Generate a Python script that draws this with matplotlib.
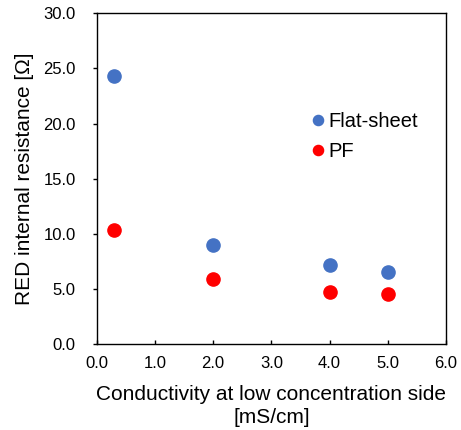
import matplotlib.pyplot as plt

# ==== data ====
cond = [0.3, 2.0, 4.0, 5.0]
flat_sheet = [24.3, 8.95, 7.15, 6.5]
pf = [10.3, 5.9, 4.7, 4.5]

plt.rcParams['font.family'] = ['Liberation Sans', 'DejaVu Sans']

fig = plt.figure(figsize=(4.61, 4.30), dpi=100)
ax = fig.add_axes([96.7 / 461, 1 - 344 / 430, (446 - 96.7) / 461, (344 - 13.3) / 430])

ax.plot(cond, flat_sheet, 'o', color='#4472C4', markersize=9.5, label='Flat-sheet')
ax.plot(cond, pf, 'o', color='#FF0000', markersize=9.5, label='PF')

ax.set_xlim(0, 6)
ax.set_ylim(0, 30)
ax.set_xticks([0, 1, 2, 3, 4, 5, 6])
ax.set_yticks([0, 5, 10, 15, 20, 25, 30])
ax.set_xticklabels(['%.1f' % v for v in ax.get_xticks()])
ax.set_yticklabels(['%.1f' % v for v in ax.get_yticks()])
ax.tick_params(axis='x', direction='in', length=3, width=1, labelsize=12, pad=9, colors='black')
ax.tick_params(axis='y', direction='out', length=3, width=1, labelsize=12, pad=12, colors='black')
for s in ax.spines.values():
    s.set_linewidth(1)
    s.set_color('black')

ax.set_xlabel('Conductivity at low concentration side\n[mS/cm]', fontsize=15, linespacing=1.25, labelpad=10)
ax.set_ylabel('RED internal resistance [Ω]', fontsize=15, labelpad=6.5)

ax.legend(loc='center left', bbox_to_anchor=(0.611, 0.627), frameon=False, fontsize=14.5,
          handlelength=0.8, handletextpad=0.1, labelspacing=0.55, borderpad=0, borderaxespad=0,
          markerscale=0.77)

fig.savefig('out.png', dpi=100)
